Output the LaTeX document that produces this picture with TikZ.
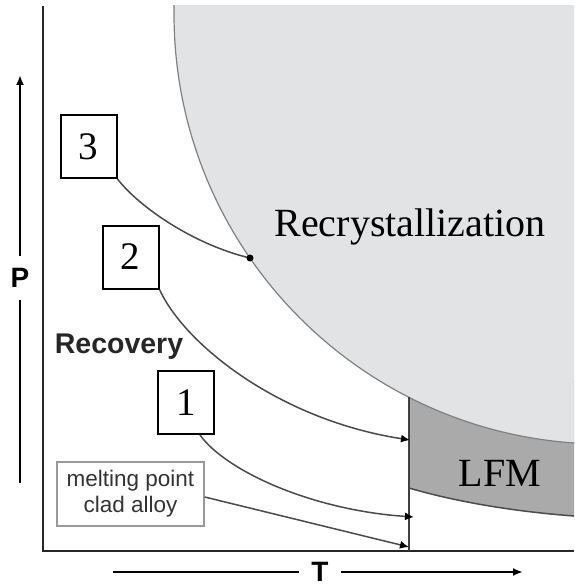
\documentclass[tikz,border=0pt]{standalone}
\usepackage{fontspec}
\setmainfont{Liberation Serif}
\setsansfont{Liberation Sans}
\usetikzlibrary{arrows.meta}
\definecolor{recgray}{RGB}{226,227,228}
\definecolor{lfmgray}{RGB}{170,170,170}
\definecolor{linegray}{RGB}{75,75,75}
\begin{document}
\begin{tikzpicture}[x=1pt,y=-1pt,
    numbox/.style={draw,line width=2pt,minimum width=56pt,minimum height=63pt,inner sep=0pt,font=\fontsize{39}{39}\selectfont},
    meltbox/.style={draw=gray!80,line width=1.5pt,minimum width=147pt,minimum height=64pt,inner sep=0pt,align=center,text=black!80,font=\sffamily\fontsize{22.5}{26}\selectfont},
    trace/.style={draw=linegray,line width=1.5pt},
    endtip/.style={-{Latex[length=9pt,width=8pt,color=black]}},
    axislabel/.style={font=\sffamily\bfseries\fontsize{28}{28}\selectfont,inner sep=12pt}]
    \useasboundingbox (0,0) rectangle (574,588);
    % LFM band and recrystallization region
    \fill[lfmgray] (409,380) -- (409,488) .. controls (460,503) and (520,512) .. (574,516) -- (574,380) -- cycle;
    \begin{scope}
        \clip (43,6) rectangle (574,551);
        \fill[recgray] (604,14) circle [radius=430];
        \draw[gray,line width=1.2pt] (604,14) circle [radius=430];
    \end{scope}
    \draw[black!70,line width=1.5pt] (409,488) .. controls (460,503) and (520,512) .. (574,516);
    % axes
    \coordinate (origin) at (43,551);
    \draw[line width=2.5pt,black!85] (43,6) -- (origin) -- (574,551);
    \coordinate (lfmtop) at (409,397);
    \coordinate (lfmbot) at (409,551);
    \draw[black!75,line width=1.2pt] (lfmtop) -- (lfmbot);
    \node[axislabel] (P) at (20,278) {P};
    \draw[line width=2pt,-{Latex[length=10pt,width=8pt]}] (20,483) -- (P) -- (20,75);
    \node[axislabel] (T) at (320,572) {T};
    \draw[line width=2pt,-{Latex[length=10pt,width=8pt]}] (113,572) -- (T) -- (523,572);
    % labels
    \node[numbox] (b3) at (88.5,146.5) {3};
    \node[numbox] (b2) at (130.5,257) {2};
    \node[numbox] (b1) at (186,402.5) {1};
    \node[meltbox] (melt) at (130.5,494) {melting point\\clad alloy};
    \node[font=\sffamily\bfseries\fontsize{28.5}{28.5}\selectfont,text=black!85] (recov) at (119,347) {Recovery};
    \node[font=\fontsize{40}{40}\selectfont] (recx) at (410,227) {Recrystallization};
    \node[font=\fontsize{40}{40}\selectfont] (lfm) at (500,473) {LFM};
    % paths
    \coordinate (d3) at (250,258);
    \coordinate (e2) at (410,440);
    \coordinate (e1) at (414,517);
    \coordinate (em) at (409,547);
    \draw[trace] (b3.south east) .. controls (140,208) and (195,245) .. (d3);
    \fill[black] (d3) circle [radius=3.5];
    \draw[trace,endtip] (b2.south east) .. controls (185,345) and (280,420) .. (e2);
    \draw[trace,endtip] ([xshift=14pt]b1.south) .. controls (225,470) and (310,510) .. (e1);
    \draw[trace,endtip] ([yshift=-3pt]melt.east) -- (em);
\end{tikzpicture}
\end{document}
